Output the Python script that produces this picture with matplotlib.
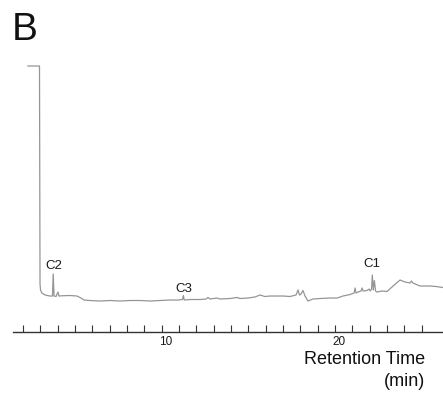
import matplotlib.pyplot as plt
import matplotlib.transforms as mtransforms

plt.rcParams['font.family'] = ['Liberation Sans', 'DejaVu Sans']

# Chromatogram trace (time in min, detector signal in arbitrary units)
time_min = [2.28, 2.95, 2.98, 3.01, 3.09, 3.27, 3.55, 3.70, 3.74, 3.79, 3.90, 4.02, 4.07,
            4.30, 4.71, 5.11, 5.29, 5.52, 5.86, 6.44, 7.02, 7.59, 8.17, 8.75, 9.32, 9.90,
            10.48, 10.94, 11.20, 11.25, 11.30, 11.63, 12.21, 12.56, 12.67, 12.79, 13.19,
            13.36, 13.94, 14.35, 14.52, 14.98, 15.38, 15.67, 15.96, 16.25, 17.00, 17.40,
            17.75, 17.87, 17.95, 18.04, 18.15, 18.27, 18.44, 18.73, 19.13, 19.71, 20.12,
            20.46, 20.87, 21.10, 21.16, 21.21, 21.33, 21.50, 21.56, 21.62, 21.85, 21.97,
            22.03, 22.11, 22.15, 22.21, 22.27, 22.34, 22.42, 22.71, 23.00, 23.35, 23.75,
            24.04, 24.33, 24.41, 24.50, 24.90, 25.48, 25.83, 26.23]
signal = [266, 266, 48, 42, 39, 37, 36, 36, 58, 36, 35.5, 40, 36,
          36.3, 36.5, 36, 34.5, 32, 31.5, 31, 31.5, 31, 31.5, 31.5, 31, 31.5,
          32, 32, 32.5, 36.5, 32, 32.5, 32.5, 33, 34.5, 33, 34,
          33, 33.5, 34.5, 33.5, 34, 35, 37, 35.5, 36, 36, 35.5,
          37, 42, 37, 38, 41.5, 36, 31, 33, 33.5, 34, 34,
          36, 37.5, 39, 44, 39, 40, 41, 44, 41, 41.5, 43,
          41, 43, 57, 42, 51.5, 41, 40, 41, 40.5, 46, 52,
          50, 49, 51, 49, 46, 46, 45.5, 44.5]

# Peak labels (name, time, label height)
peak_names = ['C2', 'C3', 'C1']
peak_times = [3.76, 11.27, 22.11]
peak_label_y = [63.7, 41.3, 65.7]

tick_positions = list(range(2, 26))
labelled_ticks = {10: '10', 20: '20'}

fig = plt.figure(figsize=(4.43, 4.02), dpi=100)
ax = fig.add_axes([0.0293, 0.1716, 0.9707, 0.7289])

ax.plot(time_min, signal, color='#959595', linewidth=0.9)

for name, t, y in zip(peak_names, peak_times, peak_label_y):
    ax.text(t, y, name, ha='center', va='baseline', fontsize=9.5, color='#1a1a1a')

ax.set_xlim(1.42, 26.23)
ax.set_ylim(0, 293)

for side in ['top', 'right', 'left']:
    ax.spines[side].set_visible(False)
ax.spines['bottom'].set_color('#333333')
ax.spines['bottom'].set_linewidth(1.0)

ax.set_yticks([])
ax.set_xticks(tick_positions)
ax.set_xticklabels([labelled_ticks.get(t, '') for t in tick_positions])
ax.tick_params(axis='x', direction='in', length=5, width=0.8, color='#333333',
               pad=2.5, labelsize=8.5, labelcolor='#1a1a1a')

# the tick numbers sit a little right of their ticks in the original
shift = mtransforms.ScaledTranslation(0.04, 0, fig.dpi_scale_trans)
for lbl in ax.get_xticklabels():
    lbl.set_transform(lbl.get_transform() + shift)

fig.text(0.027, 0.9005, 'B', fontsize=28, va='baseline', ha='left', color='#111111')
fig.text(0.959, 0.094, 'Retention Time', fontsize=13, ha='right', va='baseline',
         color='#111111')
fig.text(0.959, 0.040, '(min)', fontsize=13, ha='right', va='baseline', color='#111111')

plt.savefig('out.png', dpi=100)
